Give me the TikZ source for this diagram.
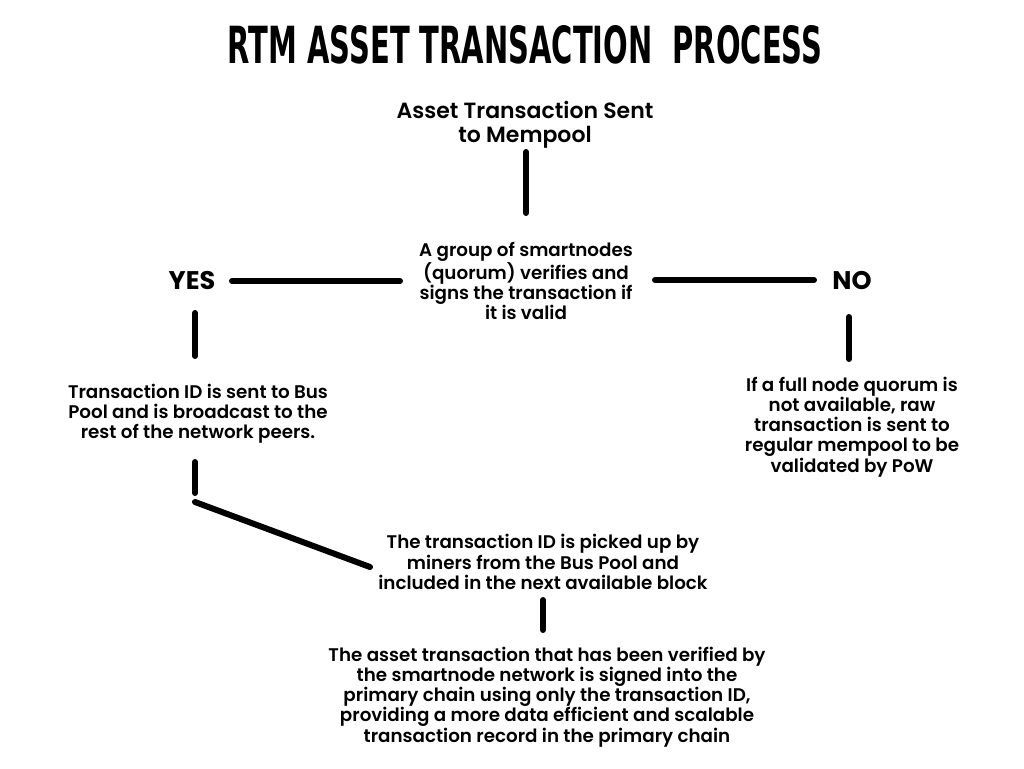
\documentclass[tikz,border=0pt]{standalone}
\usepackage{graphicx}
\usepackage{fontspec}
\setmainfont{Poppins}[UprightFont={* Medium},BoldFont={* Bold}]
\newfontfamily\semi{Poppins SemiBold}
\newfontfamily\titlefont{DejaVu Sans Condensed}[UprightFont={* Bold}]
\begin{document}
\begin{tikzpicture}[x=1pt,y=-1pt,
  conn/.style={line width=6pt,line cap=round,black},
  txt/.style={align=center,inner sep=0pt,font=\semi\fontsize{18.3}{20.2}\selectfont},
  big/.style={align=center,inner sep=0pt,font=\semi\fontsize{22}{24}\selectfont},
  yn/.style={inner sep=0pt,font=\fontsize{25.5}{26}\selectfont\bfseries}]
\useasboundingbox[fill=white] (0,0) rectangle (1024,768);
\node[inner sep=0pt] (title) at (525,45) {\resizebox{594pt}{38pt}{\titlefont RTM ASSET TRANSACTION\ \ PROCESS}};
\node[big] (sent) at (525,125) {Asset Transaction Sent\\to Mempool};
\node[txt] (quorum) at (526,281) {A group of smartnodes\\(quorum) verifies and\\signs the transaction if\\it is valid};
\node[yn] (yes) at (192,281) {YES};
\node[yn] (no) at (852,281) {NO};
\node[txt] (bus) at (198,414) {Transaction ID is sent to Bus\\Pool and is broadcast to the\\rest of the network peers.};
\node[txt] (full) at (852,427) {If a full node quorum is\\not available, raw\\transaction is sent to\\regular mempool to be\\validated by PoW};
\node[txt] (miners) at (543,562) {The transaction ID is picked up by\\miners from the Bus Pool and\\included in the next available block};
\node[txt] (signed) at (547,697) {The asset transaction that has been verified by\\the smartnode network is signed into the\\primary chain using only the transaction ID,\\providing a more data efficient and scalable\\transaction record in the primary chain};
\coordinate (a1) at (526,152); \coordinate (a2) at (526,213);
\coordinate (b1) at (400,281); \coordinate (b2) at (232,281);
\coordinate (c1) at (655,280); \coordinate (c2) at (814,280);
\coordinate (d1) at (195,313); \coordinate (d2) at (195,356);
\coordinate (e1) at (849,317); \coordinate (e2) at (849,359);
\coordinate (f1) at (195,462); \coordinate (f2) at (195,493);
\coordinate (g1) at (195,502); \coordinate (g2) at (370,567);
\coordinate (h1) at (543,600); \coordinate (h2) at (543,630);
\draw[conn] (a1) -- (a2);
\draw[conn] (b1) -- (b2);
\draw[conn] (c1) -- (c2);
\draw[conn] (d1) -- (d2);
\draw[conn] (e1) -- (e2);
\draw[conn] (f1) -- (f2);
\draw[conn] (g1) -- (g2);
\draw[conn] (h1) -- (h2);
\end{tikzpicture}
\end{document}
